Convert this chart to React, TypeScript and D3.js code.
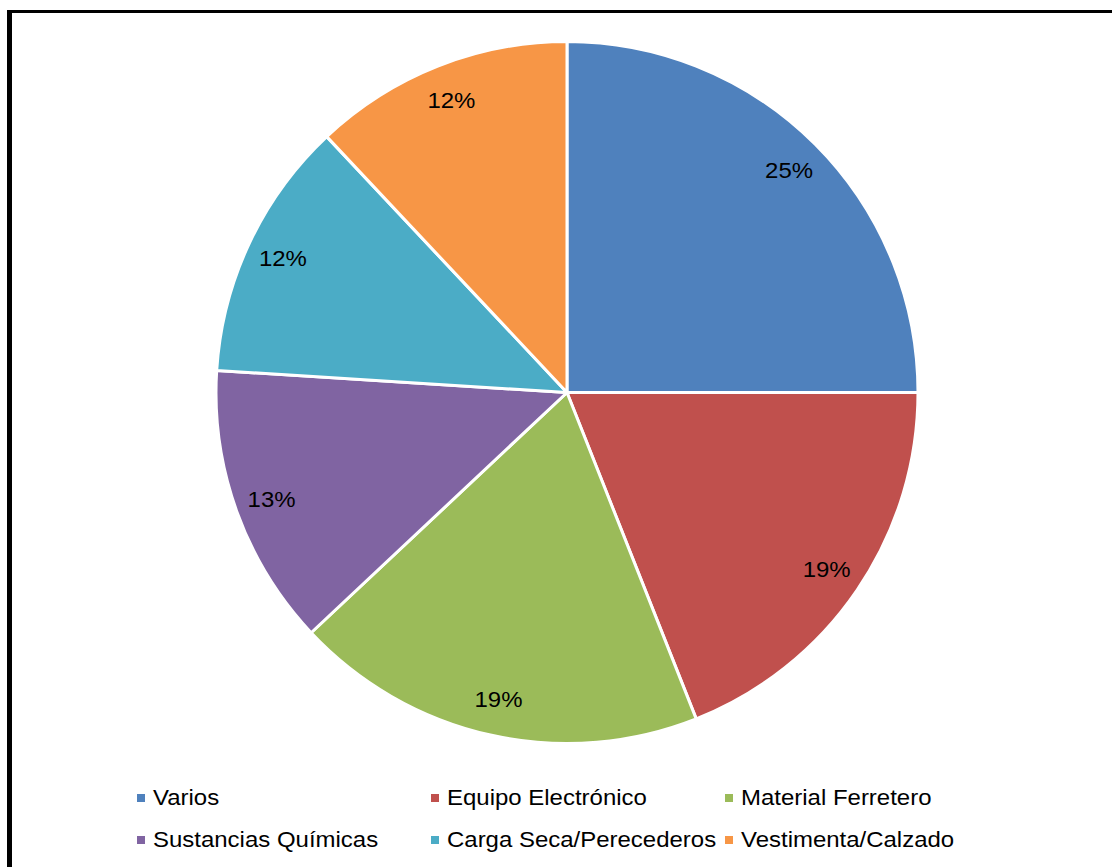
import React from "react";
import * as d3 from "d3";

const categories = [
  "Varios",
  "Equipo Electrónico",
  "Material Ferretero",
  "Sustancias Químicas",
  "Carga Seca/Perecederos",
  "Vestimenta/Calzado",
];
const values = [25, 19, 19, 13, 12, 12];
const colors = ["#4F81BD", "#C0504D", "#9BBB59", "#8064A2", "#4BACC6", "#F79646"];

const W = 1112;
const H = 867;
const cx = 567;
const cy = 392.5;
const R = 351;
const labelR = 314;
const font = "'Liberation Sans', Arial, sans-serif";
const SX = 1.09;

export default function App() {
  const data = categories.map((c, i) => ({ name: c, value: values[i], color: colors[i] }));
  const pie = d3.pie<any>().value((d) => d.value).sort(null);
  const arcs = pie(data);
  const arc = d3.arc<any>().innerRadius(0).outerRadius(R);
  const labelArc = d3.arc<any>().innerRadius(labelR).outerRadius(labelR);
  const total = d3.sum(values);

  const legendCols = [137, 431, 725];
  const legendRows = [805, 847];

  return (
    <svg
      width={W}
      height={H}
      style={{ position: "absolute", left: 0, top: 0, display: "block" }}
      fontFamily={font}
    >
      <rect x={0} y={0} width={W} height={H} fill="#fff" />
      <rect x={7} y={10} width={5} height={H - 10} fill="#000" />
      <rect x={7} y={10} width={W - 7} height={3} fill="#000" />
      <g transform={`translate(${cx},${cy})`}>
        {arcs.map((a, i) => (
          <path key={i} d={arc(a) as string} fill={a.data.color} stroke="#fff" strokeWidth={3} strokeLinejoin="round" />
        ))}
        {arcs.map((a, i) => {
          const [x, y] = labelArc.centroid(a);
          return (
            <text
              key={"l" + i}
              transform={`translate(${x},${y}) scale(${SX},1)`}
              textAnchor="middle"
              dominantBaseline="central"
              fontSize={22}
              fill="#000"
            >
              {Math.round((a.data.value / total) * 100)}%
            </text>
          );
        })}
      </g>
      {data.map((d, i) => {
        const col = i % 3;
        const row = Math.floor(i / 3);
        const x = legendCols[col];
        const y = legendRows[row];
        return (
          <g key={"lg" + i}>
            <rect x={x} y={y - 11} width={8} height={8} fill={d.color} />
            <text transform={`translate(${x + 16},${y}) scale(${SX},1)`} fontSize={22} fill="#000">
              {d.name}
            </text>
          </g>
        );
      })}
    </svg>
  );
}
